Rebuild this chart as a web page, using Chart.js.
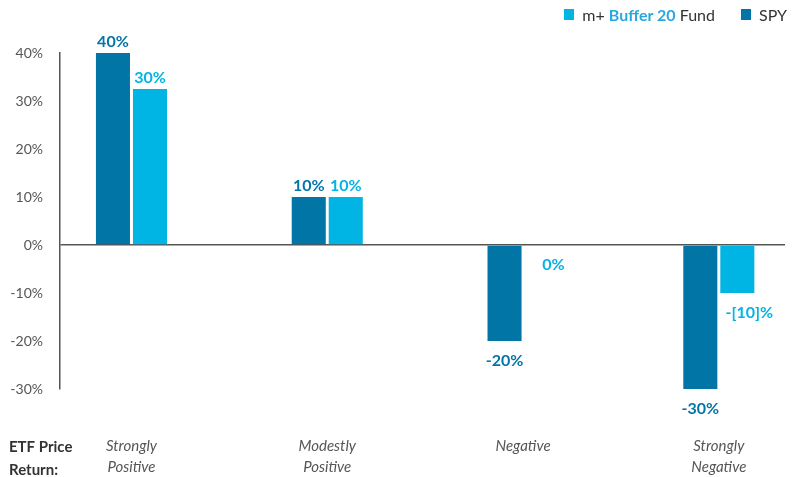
<!DOCTYPE html>
<html>
<head>
<meta charset="utf-8">
<script src="https://cdn.jsdelivr.net/npm/chart.js@4"></script>
<style>
  body { margin: 0; background: #fff; font-family: Lato, sans-serif; }
  #wrap { position: relative; width: 800px; height: 477px; }
  #leyenda { position: absolute; top: 5px; right: 13px; font-size: 16px; color: #333; display: flex; align-items: center; }
  #leyenda .cuadro { display: inline-block; width: 10px; height: 11px; margin-right: 8px; }
  #leyenda .item { display: flex; align-items: center; }
  #leyenda .destacado { color: #27a8df; font-weight: 700; }
</style>
</head>
<body>
<div id="wrap">
  <canvas id="grafico" width="800" height="477"></canvas>
  <div id="leyenda">
    <span class="item"><span class="cuadro" style="background:#00b4e3"></span>m+&nbsp;<span class="destacado">Buffer 20</span>&nbsp;Fund</span>
    <span class="item" style="margin-left:26px"><span class="cuadro" style="background:#0275a7"></span>SPY</span>
  </div>
</div>
<script>
// Categorias y valores
const categorias = [['Strongly', 'Positive'], ['Modestly', 'Positive'], ['Negative'], ['Strongly', 'Negative']];
const valoresSpy = [40, 10, -20, -30];
const valoresBuffer = [32.5, 10, 0, -10];
const etiquetasSpy = ['40%', '10%', '-20%', '-30%'];
const etiquetasBuffer = ['30%', '10%', '0%', '-[10]%'];
const ticksY = [-30, -20, -10, 0, 10, 20, 30, 40];

const colorSpy = '#0275a7';
const colorBuffer = '#00b4e3';

// Plugin para las etiquetas de valor sobre/bajo cada barra
const etiquetasBarras = {
    id: 'etiquetasBarras',
    afterDatasetsDraw(chart) {
        const ctx = chart.ctx;
        ctx.save();
        ctx.font = 'bold 16px Lato';
        ctx.textAlign = 'center';
        ctx.textBaseline = 'middle';
        chart.data.datasets.forEach((ds, i) => {
            const meta = chart.getDatasetMeta(i);
            meta.data.forEach((barra, j) => {
                const valor = ds.data[j].y;
                let x = barra.x;
                let y;
                if (valor > 0) {
                    y = barra.y - 11;
                } else {
                    y = barra.y + 20;
                    if (i === 1) x += 12;
                }
                ctx.fillStyle = ds.backgroundColor;
                ctx.fillText(ds.etiquetas[j], x, y);
            });
        });
        // Titulo del eje x a la izquierda
        ctx.fillStyle = '#333';
        ctx.textAlign = 'left';
        ctx.font = 'bold 15px Lato';
        ctx.fillText('ETF Price', 9, 447);
        ctx.fillText('Return:', 9, 470);
        ctx.restore();
    }
};

const ctx = document.getElementById('grafico').getContext('2d');
new Chart(ctx, {
    type: 'bar',
    data: {
        datasets: [{
            label: 'SPY',
            data: valoresSpy.map((v, i) => ({ x: i, y: v })),
            etiquetas: etiquetasSpy,
            backgroundColor: colorSpy
        }, {
            label: 'm+ Buffer 20 Fund',
            data: valoresBuffer.map((v, i) => ({ x: i, y: v })),
            etiquetas: etiquetasBuffer,
            backgroundColor: colorBuffer
        }]
    },
    options: {
        responsive: false,
        animation: false,
        categoryPercentage: 0.378,
        barPercentage: 0.92,
        layout: { padding: { top: 53, right: 15, left: 0, bottom: 0 } },
        plugins: {
            legend: { display: false },
            tooltip: { enabled: false }
        },
        scales: {
            x: {
                type: 'linear',
                offset: false,
                min: -0.365,
                max: 3.338,
                afterBuildTicks: (escala) => {
                    escala.ticks = categorias.map((c, i) => ({ value: i }));
                },
                afterFit: (escala) => { escala.height = 88; },
                grid: { display: false, drawTicks: false, offset: false },
                border: { display: false },
                ticks: {
                    autoSkip: false,
                    maxRotation: 0,
                    padding: 46,
                    color: '#555',
                    font: { family: 'Lato', size: 15, style: 'italic', lineHeight: 1.45 },
                    callback: (valor) => categorias[valor]
                }
            },
            y: {
                min: -30,
                max: 40,
                afterBuildTicks: (escala) => {
                    escala.ticks = ticksY.map(v => ({ value: v }));
                },
                afterFit: (escala) => { escala.width = 60; },
                grid: {
                    drawTicks: false,
                    lineWidth: 1.5,
                    color: (c) => c.tick && c.tick.value === 0 ? '#555' : 'rgba(0,0,0,0)'
                },
                border: { display: true, color: '#555', width: 1.5 },
                ticks: {
                    padding: 17,
                    color: '#555',
                    font: { family: 'Lato', size: 14 },
                    callback: (valor) => valor + '%'
                }
            }
        }
    },
    plugins: [etiquetasBarras]
});
</script>
</body>
</html>
